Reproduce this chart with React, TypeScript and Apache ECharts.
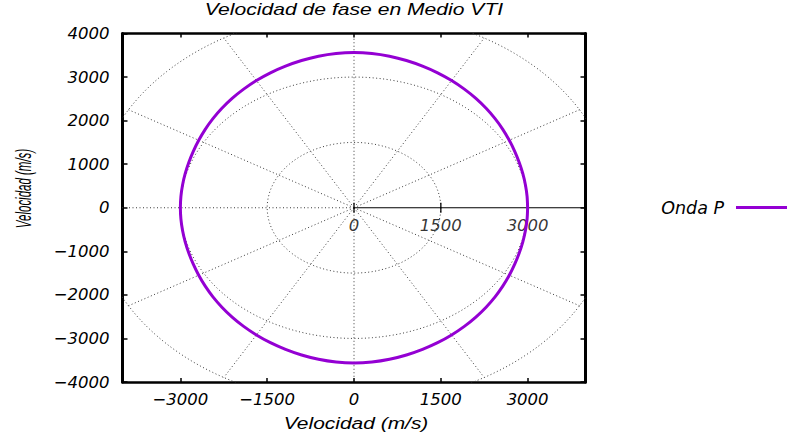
import React, { useEffect, useRef } from 'react';
import * as echarts from 'echarts';

// ---- texts ----
const chartTitle = 'Velocidad de fase en Medio VTI';
const xAxisName = 'Velocidad (m/s)';
const yAxisName = 'Velocidad (m/s)';
const seriesName = 'Onda P';

// ---- axes ----
const axisMin = -4000;
const axisMax = 4000;
const xTickValues = [-3000, -1500, 0, 1500, 3000];
const yInterval = 1000;

// ---- polar grid ----
const polarRadii = [1500, 3000, 4500];
const radialAnglesDeg = [30, 60, 90, 120, 150, 180, 210, 240, 270, 300, 330];
const polarAxisMax = 4500;
const polarTickValues = [0, 1500, 3000];

// ---- data: phase velocity (m/s) vs angle from horizontal (deg), first quadrant ----
const angleDeg = [0, 5, 10, 15, 20, 25, 30, 35, 40, 45, 50, 55, 60, 65, 70, 75, 80, 85, 90];
const phaseVelocity = [
  3000, 3002, 3008, 3020, 3038, 3064, 3098, 3138, 3182, 3228, 3276, 3324, 3372, 3418, 3460,
  3500, 3533, 3556, 3565,
];

const fmt = (v: number) => (v < 0 ? '\u2212' + Math.abs(v) : String(v));
const rad = (d: number) => (d * Math.PI) / 180;

const labelFont = {
  fontFamily: 'DejaVu Sans',
  fontStyle: 'italic' as const,
  fontSize: 16.5,
  color: '#000',
};

function buildCurve(): number[][] {
  const pts: number[][] = [];
  for (let a = 0; a <= 360; a += 5) {
    let ref = a % 180;
    if (ref > 90) ref = 180 - ref;
    const idx = angleDeg.indexOf(ref);
    const v = phaseVelocity[idx];
    pts.push([v * Math.cos(rad(a)), v * Math.sin(rad(a))]);
  }
  return pts;
}

function circlePoints(r: number): number[][] {
  const pts: number[][] = [];
  for (let a = 0; a <= 360; a += 2) pts.push([r * Math.cos(rad(a)), r * Math.sin(rad(a))]);
  return pts;
}

const dotted = { color: '#3a3a3a', width: 1, type: [1, 2.5] as any };

export default function App() {
  const ref = useRef<HTMLDivElement>(null);
  useEffect(() => {
    document.body.style.margin = '0';
    const chart = echarts.init(ref.current!, null, { renderer: 'svg' });

    const gridSeries: any[] = [];
    polarRadii.forEach((r) => {
      gridSeries.push({
        type: 'line',
        data: circlePoints(r),
        showSymbol: false,
        symbol: 'none',
        lineStyle: dotted,
        silent: true,
        z: 1,
        emphasis: { disabled: true },
      });
    });
    radialAnglesDeg.forEach((a) => {
      gridSeries.push({
        type: 'line',
        data: [
          [0, 0],
          [polarAxisMax * Math.cos(rad(a)), polarAxisMax * Math.sin(rad(a))],
        ],
        symbol: 'none',
        lineStyle: dotted,
        silent: true,
        z: 1,
        emphasis: { disabled: true },
      });
    });
    // polar axis (solid)
    gridSeries.push({
      type: 'line',
      data: [
        [0, 0],
        [polarAxisMax, 0],
      ],
      symbol: 'none',
      lineStyle: { color: '#000', width: 1.2 },
      silent: true,
      z: 2,
      emphasis: { disabled: true },
    });
    // polar axis ticks + labels
    gridSeries.push({
      type: 'scatter',
      data: polarTickValues.map((v) => [v, 0]),
      symbol: 'rect',
      symbolSize: [1.6, 10],
      itemStyle: { color: '#000' },
      silent: true,
      z: 2,
      label: {
        show: true,
        position: 'bottom',
        distance: 4,
        formatter: (p: any) => fmt(p.value[0]),
        ...labelFont,
      },
      emphasis: { disabled: true },
    });

    const xCommon = {
      type: 'value',
      min: axisMin,
      max: axisMax,
      splitLine: { show: false },
      axisLine: { show: true, onZero: false, lineStyle: { color: '#000', width: 2.5 } },
      axisTick: {
        show: true,
        inside: true,
        length: 4,
        customValues: xTickValues,
        lineStyle: { color: '#000', width: 1.5 },
      },
    };
    const yCommon = {
      type: 'value',
      min: axisMin,
      max: axisMax,
      interval: yInterval,
      splitLine: { show: false },
      axisLine: { show: true, onZero: false, lineStyle: { color: '#000', width: 3 } },
      axisTick: { show: true, inside: true, length: 5, lineStyle: { color: '#000', width: 1.5 } },
    };

    chart.setOption({
      animation: false,
      grid: { left: 122.5, right: 201.5, top: 33.5, bottom: 59, containLabel: false },
      xAxis: [
        {
          ...xCommon,
          position: 'bottom',
          axisLabel: {
            customValues: xTickValues,
            formatter: (v: number) => fmt(v),
            margin: 9,
            ...labelFont,
          },
        },
        { ...xCommon, position: 'top', axisLabel: { show: false } },
      ],
      yAxis: [
        {
          ...yCommon,
          position: 'left',
          axisLabel: {
            formatter: (v: number) => fmt(v),
            margin: 13,
            showMinLabel: true,
            showMaxLabel: true,
            ...labelFont,
          },
        },
        { ...yCommon, position: 'right', axisLabel: { show: false } },
      ],
      legend: {
        data: [seriesName],
        right: 0,
        top: 198.5,
        align: 'right',
        icon: 'rect',
        itemWidth: 51,
        itemHeight: 3,
        padding: 0,
        selectedMode: false,
        textStyle: { ...labelFont, fontSize: 17.5, padding: [0, 7, 0, 0] },
      },
      graphic: [
        {
          type: 'text',
          x: 354,
          y: 9.5,
          scaleX: 1.32,
          style: {
            text: chartTitle,
            font: 'italic 16px "Liberation Sans"',
            fill: '#000',
            align: 'center',
            verticalAlign: 'middle',
          },
        },
        {
          type: 'text',
          x: 356,
          y: 423,
          scaleX: 1.27,
          style: {
            text: xAxisName,
            font: 'italic 16.5px "Liberation Sans"',
            fill: '#000',
            align: 'center',
            verticalAlign: 'middle',
          },
        },
        {
          type: 'text',
          x: 23,
          y: 188.5,
          rotation: Math.PI / 2,
          scaleY: 1.9,
          style: {
            text: yAxisName,
            font: 'italic 11.5px "Liberation Sans"',
            fill: '#000',
            align: 'center',
            verticalAlign: 'middle',
          },
        },
      ],
      series: [
        ...gridSeries,
        {
          name: seriesName,
          type: 'line',
          data: buildCurve(),
          smooth: 0.3,
          symbol: 'none',
          itemStyle: { color: '#9400D3' },
          lineStyle: { color: '#9400D3', width: 3 },
          z: 5,
          emphasis: { disabled: true },
        },
      ],
    });
    return () => chart.dispose();
  }, []);
  return <div ref={ref} style={{ width: 787, height: 441 }} />;
}
